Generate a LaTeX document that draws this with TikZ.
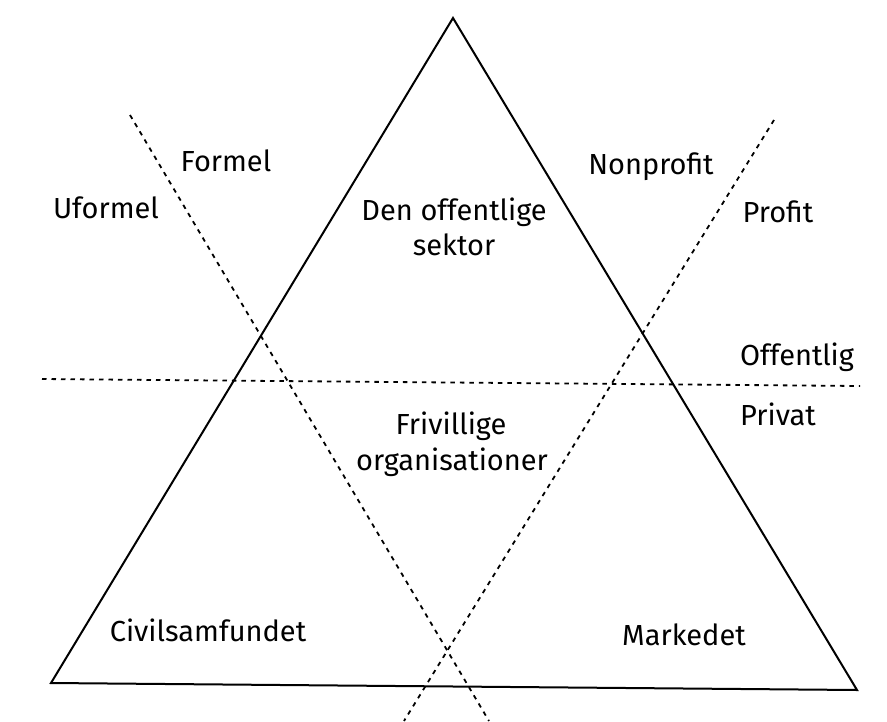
\documentclass[tikz,border=0pt]{standalone}
\usepackage{fontspec}
\setmainfont{Fira Sans}
\begin{document}
\begin{tikzpicture}[x=1pt,y=-1pt,
  tri/.style={line width=2pt,line join=miter},
  dline/.style={line width=1.8pt,dash pattern=on 4.5pt off 5pt},
  lab/.style={anchor=base,inner sep=0pt,font=\fontsize{29}{35}\selectfont}]
\useasboundingbox (0,0) rectangle (887,721);
% triangle corners
\coordinate (A) at (453,18);
\coordinate (B) at (51,683);
\coordinate (C) at (857,690);
% dashed line ends
\coordinate (L1a) at (130,115);
\coordinate (L1b) at (489,721);
\coordinate (L2a) at (774,120);
\coordinate (L2b) at (404,721);
\coordinate (Ha) at (42,379);
\coordinate (Hb) at (860,386);
\draw[tri] (A) -- (B) -- (C) -- cycle;
\draw[dline] (L1a) -- (L1b);
\draw[dline] (L2a) -- (L2b);
\draw[dline] (Ha) -- (Hb);
% labels
\node[lab] (formel) at (226,171) {Formel};
\node[lab] (uformel) at (106,218) {Uformel};
\node[lab] (nonprofit) at (651,174) {Nonprofit};
\node[lab] (profit) at (778,222) {Profit};
\node[lab] (den) at (454,220) {Den offentlige};
\node[lab] (sektor) at (454,255) {sektor};
\node[lab] (offentlig) at (797,365) {Offentlig};
\node[lab] (privat) at (778,425) {Privat};
\node[lab] (frivillige) at (451,434) {Frivillige};
\node[lab] (org) at (452,470) {organisationer};
\node[lab] (civil) at (208,641) {Civilsamfundet};
\node[lab] (marked) at (684,645) {Markedet};
\end{tikzpicture}
\end{document}
